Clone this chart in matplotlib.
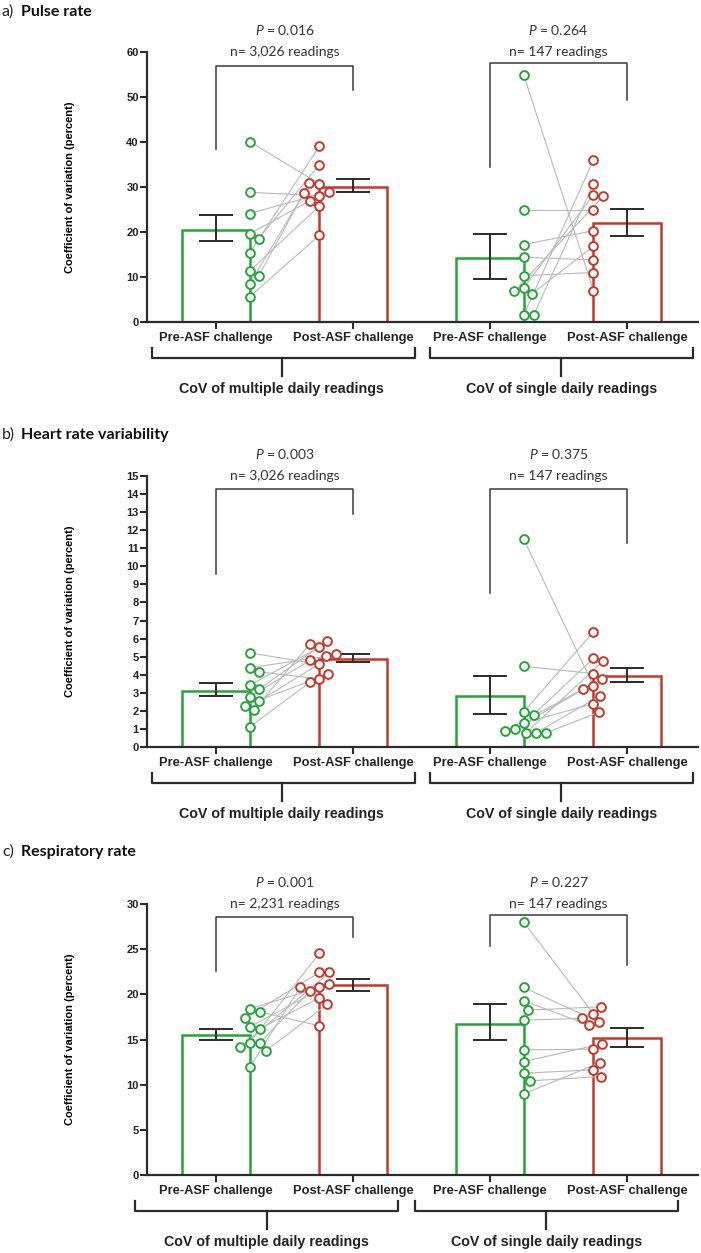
import numpy as np
import matplotlib
matplotlib.use('Agg')
import matplotlib.pyplot as plt

plt.rcParams['font.family'] = ['Liberation Sans', 'DejaVu Sans']
plt.rcParams['mathtext.fontset'] = 'custom'
plt.rcParams['mathtext.it'] = 'Lato:italic'
plt.rcParams['mathtext.rm'] = 'Lato'

GREEN = '#27a33a'
RED = '#c23a2c'
DARK = '#2b2b2b'

groups = ['Pre-ASF challenge', 'Post-ASF challenge', 'Pre-ASF challenge', 'Post-ASF challenge']
group_labels = ['CoV of multiple daily readings', 'CoV of single daily readings']

# ---- a) Pulse rate ----
pulse_multi_pre = [40.1, 28.8, 24.1, 19.6, 18.5, 15.3, 11.3, 10.2, 8.4, 5.6]
pulse_multi_post = [30.7, 28.1, 29.0, 27.0, 35.0, 39.1, 25.8, 31.0, 28.7, 19.3]
pulse_single_pre = [55.0, 25.0, 17.2, 14.4, 10.3, 7.6, 6.3, 6.8, 1.5, 1.5]
pulse_single_post = [7.0, 25.0, 20.3, 13.8, 11.0, 28.3, 16.8, 28.0, 36.0, 30.7]
pulse_mean = [20.5, 30.0, 14.3, 22.0]
pulse_lo = [17.9, 28.8, 9.6, 19.2]
pulse_hi = [23.7, 31.7, 19.6, 25.2]
pulse_p = ['0.016', '0.264']
pulse_n = ['n= 3,026 readings', 'n= 147 readings']

# ---- b) Heart rate variability ----
hrv_multi_pre = [5.21, 4.38, 4.16, 3.42, 3.21, 2.77, 2.55, 2.29, 2.07, 1.11]
hrv_multi_post = [4.58, 5.02, 3.77, 5.52, 5.87, 4.80, 5.17, 4.03, 5.71, 3.58]
hrv_single_pre = [11.53, 4.47, 1.94, 1.79, 1.33, 0.79, 1.02, 0.79, 0.89, 0.78]
hrv_single_post = [3.38, 4.06, 6.37, 4.91, 2.40, 4.78, 3.79, 2.83, 3.21, 1.94]
hrv_mean = [3.10, 4.88, 2.83, 3.95]
hrv_lo = [2.80, 4.71, 1.81, 3.58]
hrv_hi = [3.57, 5.12, 3.92, 4.40]
hrv_p = ['0.003', '0.375']
hrv_n = ['n= 3,026 readings', 'n= 147 readings']

# ---- c) Respiratory rate ----
resp_multi_pre = [18.40, 18.06, 17.40, 16.40, 16.18, 14.63, 14.63, 14.15, 13.78, 11.93]
resp_multi_post = [20.76, 16.51, 22.42, 21.09, 19.62, 24.57, 20.35, 22.42, 18.91, 20.83]
resp_single_pre = [28.0, 20.76, 19.28, 18.25, 17.14, 13.85, 12.56, 11.27, 10.42, 8.98]
resp_single_post = [17.84, 16.92, 16.59, 18.62, 17.33, 13.93, 14.52, 11.64, 10.90, 12.45]
resp_mean = [15.45, 20.98, 16.73, 15.15]
resp_lo = [14.96, 20.35, 14.96, 14.22]
resp_hi = [16.18, 21.72, 18.91, 16.25]
resp_p = ['0.001', '0.227']
resp_n = ['n= 2,231 readings', 'n= 147 readings']

W, H = 701, 1253
fig = plt.figure(figsize=(W / 100, H / 100), dpi=100)

X0, X1 = 147, 698          # axis spine span in px
XLIM = (-0.504, 3.518)
PX_PER_X = (X1 - X0) / (XLIM[1] - XLIM[0])


def swarm(vals, px_per_y, d=10.0):
    # simple beeswarm: nudge points sideways until they stop overlapping
    placed = []
    out = []
    for v in vals:
        y = v * px_per_y
        dx_ok = 0.0
        for k in range(0, 80):
            found = False
            for s in ([1] if k == 0 else [1, -1]):
                dx = s * k * 0.5
                if all((dx - px) ** 2 + (y - py) ** 2 >= d * d for px, py in placed):
                    dx_ok = dx
                    found = True
                    break
            if found:
                break
        placed.append((dx_ok, y))
        out.append(dx_ok)
    return np.array(out) / PX_PER_X


def panel(top, bottom, ymax, ystep, title_a, title_b, title_y,
          pairs, mean, lo, hi, pvals, ntexts, sig, brackets):
    ax = fig.add_axes([X0 / W, 1 - bottom / H, (X1 - X0) / W, (bottom - top) / H])
    ax_h = bottom - top
    px_per_y = ax_h / ymax
    xs = np.arange(4)
    colors = [GREEN, RED, GREEN, RED]

    ax.bar(xs, mean, width=0.49, facecolor='white', edgecolor=colors,
           linewidth=1.8, zorder=1)
    ax.errorbar(xs, mean, yerr=[np.array(mean) - np.array(lo), np.array(hi) - np.array(mean)],
                fmt='none', ecolor=DARK, elinewidth=1.4, capsize=12, capthick=1.4, zorder=2)

    for g, (pre, post) in enumerate(pairs):
        xpre = 2 * g + 0.245 + swarm(pre, px_per_y)
        xpost = 2 * g + 1 - 0.245 + swarm(post, px_per_y)
        for a, b, ya, yb in zip(xpre, xpost, pre, post):
            ax.plot([a, b], [ya, yb], color='#b9b9b9', lw=0.8, zorder=3, clip_on=False)
        ax.plot(xpre, pre, 'o', ms=6.3, mfc='white', mec=GREEN, mew=1.4, zorder=4, clip_on=False)
        ax.plot(xpost, post, 'o', ms=6.3, mfc='white', mec=RED, mew=1.4, zorder=4, clip_on=False)

        # significance bracket
        stop, sleft, sright = sig[g]
        ax.plot([2 * g, 2 * g, 2 * g + 1, 2 * g + 1], [sleft, stop, stop, sright],
                color='#3a3a3a', lw=1.1, zorder=2, clip_on=False)
        ax.text(2 * g + 0.5, ymax + 22 / px_per_y, r'$\it{P}$ = ' + pvals[g],
                ha='center', va='center', fontsize=10, family='Lato', color='#333333')
        ax.text(2 * g + 0.5, ymax, ntexts[g], ha='center', va='center',
                fontsize=10, family='Lato', color='#333333')

    ax.set_xlim(*XLIM)
    ax.set_ylim(0, ymax)
    ax.set_yticks(np.arange(0, ymax + 0.1, ystep))
    ax.set_xticks(xs)
    ax.set_xticklabels(groups, fontsize=9.3, fontweight='bold', color='#222222')
    for lab in ax.get_yticklabels():
        lab.set_fontsize(8)
        lab.set_fontweight('bold')
    ax.tick_params(axis='both', direction='out', length=5, width=1.5, colors=DARK)
    ax.tick_params(axis='x', pad=2, labelcolor='#222222')
    ax.tick_params(axis='y', pad=1, labelcolor='#222222')
    for s in ['top', 'right']:
        ax.spines[s].set_visible(False)
    for s in ['left', 'bottom']:
        ax.spines[s].set_linewidth(1.6)
        ax.spines[s].set_color(DARK)

    ax.set_ylabel('Coefficient of variation (percent)', fontsize=8, fontweight='bold')
    ax.yaxis.set_label_coords((75 - X0) / (X1 - X0), 0.5)

    # group brackets below the axis
    tr = ax.get_xaxis_transform()
    for (bx0, bx1, bxc), lab in zip(brackets, group_labels):
        y_end, y_line, y_tick, y_lab = [-p / ax_h for p in (26, 36, 54, 67)]
        ax.plot([bx0, bx0, bx1, bx1], [y_end, y_line, y_line, y_end], color=DARK, lw=1.6,
                transform=tr, clip_on=False)
        ax.plot([bxc, bxc], [y_line, y_tick], color=DARK, lw=1.6, transform=tr, clip_on=False)
        ax.text(bxc, y_lab, lab, transform=tr, ha='center', va='center',
                fontsize=10.3, fontweight='bold', color='#222222')

    fig.text(2 / W, 1 - title_y / H, title_a, ha='left', va='center', fontsize=11.5,
             family='Lato', color='#222222')
    fig.text(21 / W, 1 - title_y / H, title_b, ha='left', va='center', fontsize=11.5,
             family='Lato', fontweight='bold', color='#111111')
    return ax


br_ab = [(-0.47, 1.45, 0.48), (1.56, 3.48, 2.52)]
br_c = [(-0.59, 1.33, 0.37), (1.45, 3.37, 2.41)]

panel(52, 322, 60, 10, 'a)', 'Pulse rate', 12,
      [(pulse_multi_pre, pulse_multi_post), (pulse_single_pre, pulse_single_post)],
      pulse_mean, pulse_lo, pulse_hi, pulse_p, pulse_n,
      [(56.8, 38.5, 51.6), (57.6, 34.4, 49.3)], br_ab)

panel(476, 747, 15, 1, 'b)', 'Heart rate variability', 435,
      [(hrv_multi_pre, hrv_multi_post), (hrv_single_pre, hrv_single_post)],
      hrv_mean, hrv_lo, hrv_hi, hrv_p, hrv_n,
      [(14.26, 9.6, 12.9), (14.3, 8.5, 11.3)], br_ab)

panel(904, 1175, 30, 5, 'c)', 'Respiratory rate', 852,
      [(resp_multi_pre, resp_multi_post), (resp_single_pre, resp_single_post)],
      resp_mean, resp_lo, resp_hi, resp_p, resp_n,
      [(28.6, 22.6, 26.4), (28.8, 25.3, 23.2)], br_c)

fig.savefig('out.png', dpi=100, facecolor='white')
